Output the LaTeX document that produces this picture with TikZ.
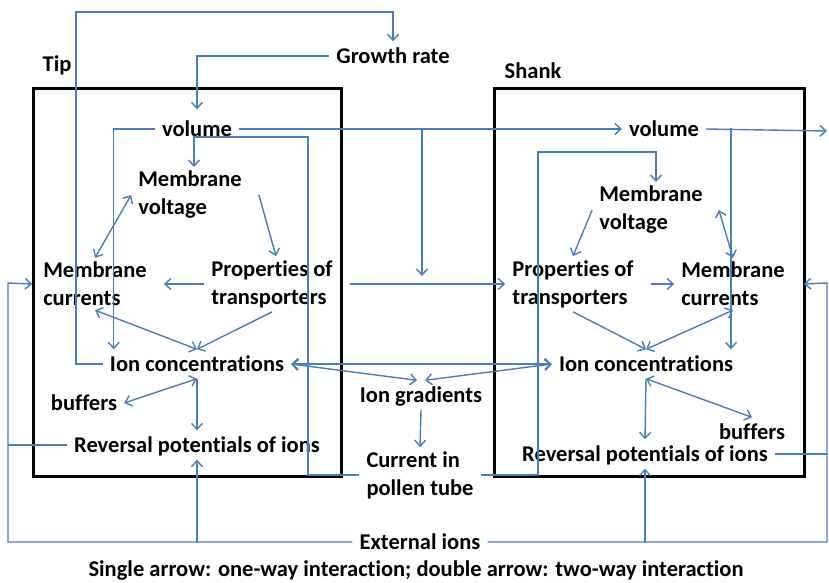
\documentclass[tikz,border=0pt]{standalone}
\usepackage{fontspec}
\setmainfont{Carlito}[Ligatures=CommonOff]
\usetikzlibrary{arrows.meta, positioning, calc}
\definecolor{linkblue}{HTML}{4A7EBB}
\tikzset{
    term/.style={font=\bfseries\fontsize{22.5}{28}\selectfont, inner xsep=7pt, inner ysep=4pt, text height=18pt, text depth=3pt},
    term2/.style={font=\bfseries\fontsize{22.5}{28}\selectfont, inner xsep=7pt, inner ysep=4pt, align=left},
    cell/.style={draw, line width=3pt},
    wire/.style={draw=linkblue, line width=1.4pt},
    conn/.style={wire, -{Straight Barb[length=6pt,width=11pt]}},
    biconn/.style={wire, {Straight Barb[length=6pt,width=11pt]}-{Straight Barb[length=6pt,width=11pt]}}
}
\begin{document}
\begin{tikzpicture}[x=1pt, y=-1pt]
    \useasboundingbox (0,0) rectangle (829,582);

    % the two cell regions
    \draw [cell] (33,88) rectangle (341,476);
    \draw [cell] (494,88) rectangle (804,476);
    \node (tiplbl) [term] at (57,64) {Tip};
    \node (shanklbl) [term] at (533,71) {Shank};

    \node (growth) [term] at (393,56) {Growth rate};

    % tip
    \node (tipvol) [term] at (197,129) {volume};
    \node (tipmv) [term2] at (190,195) {Membrane\\voltage};
    \node (tipmc) [term2] at (95,284) {Membrane\\currents};
    \node (tipprop) [term2] at (272,284) {Properties of\\transporters};
    \node (tipion) [term] at (197,364) {Ion concentrations};
    \node (tipbuf) [term] at (84,403) {buffers};
    \node (tiprev) [term] at (197,445) {Reversal potentials of ions};

    % shank
    \node (shankvol) [term] at (664,129) {volume};
    \node (shankmv) [term2] at (651,210) {Membrane\\voltage};
    \node (shankprop) [term2] at (573,284) {Properties of\\transporters};
    \node (shankmc) [term2] at (733,284) {Membrane\\currents};
    \node (shankion) [term] at (646,364) {Ion concentrations};
    \node (shankbuf) [term] at (752,432) {buffers};
    \node (shankrev) [term] at (645,454) {Reversal potentials of ions};

    % between and below
    \node (iongrad) [term] at (421,395) {Ion gradients};
    \node (curr) [term2] at (420,475) {Current in\\pollen tube};
    \node (extion) [term] at (420,542) {External ions};
    \node (legend) [term] at (416,569) {Single arrow: one-way interaction; double arrow: two-way interaction};

    \coordinate (tiploop) at (76,12);
    \coordinate (tipring) at (308,137);
    \coordinate (shankring) at (538,152);
    \coordinate (volsplit) at (422,128);
    \coordinate (propjoin) at (422,276);
    \coordinate (shanktap) at (731,128);
    \coordinate (voleast) at (827,131);
    \coordinate (railL) at (8,283);
    \coordinate (railR) at (827,283);

    % growth and volume
    \draw [conn] (tipion.west) -| (tiploop) -| (growth.north);
    \draw [conn] (growth.west) -| ([yshift=5pt]tipvol.north);
    \draw [conn] (tipvol.west) -| ([xshift=11pt]tipion.north west);
    \draw [conn] (tipvol.east) -- (shankvol.west);
    \draw [conn] (volsplit) -- (propjoin);
    \draw [conn] ([xshift=10pt]tipprop.east) -- (shankprop.west);
    \draw [conn] (shankvol.east) -- (voleast);
    \draw [conn] (shanktap) -- (shanktap |- shankion.north);

    % current in pollen tube
    \draw [conn] (curr.west) -| (tipring) -| ([xshift=4pt]tipmv.north);
    \draw [conn] (curr.east) -| (shankring) -| ([xshift=5pt]shankmv.north);

    % inside the tip
    \draw [biconn] (tipmv.west) -- (tipmc.north);
    \draw [conn] ([xshift=10pt]tipmv.east) -- ([xshift=4pt]tipprop.north);
    \draw [conn, shorten >=10pt] (tipprop.west) -- (tipmc.east);
    \draw [biconn] (tipmc.south) -- (tipion.north);
    \draw [conn] (tipprop.south) -- (tipion.north);
    \draw [biconn] (tipion.south) -- (tipbuf.east);
    \draw [conn] (tipion.south) -- (tiprev.north);

    % inside the shank
    \draw [conn] (shankmv.west) -- (shankprop.north);
    \draw [biconn] ([xshift=9pt]shankmv.east) -- (shankmc.north);
    \draw [conn, shorten <=10pt] (shankprop.east) -- (shankmc.west);
    \draw [conn] (shankprop.south) -- (shankion.north);
    \draw [biconn] (shankmc.south) -- (shankion.north);
    \draw [biconn] (shankion.south) -- (shankbuf.north);
    \draw [conn] (shankion.south) -- (shankrev.north);

    % ion gradients
    \draw [biconn] (tipion.east) -- (shankion.west);
    \draw [biconn] (tipion.east) -- ([xshift=-4pt]iongrad.north);
    \draw [biconn] (shankion.west) -- ([xshift=4pt]iongrad.north);
    \draw [conn] (iongrad.south) -- (curr.north);

    % external ions
    \draw [conn] (extion.west) -| (railL) -- ([xshift=-4pt]tipmc.west);
    \draw [wire] (tiprev.west) -- (tiprev.west -| railL);
    \draw [conn] (tiprev.south |- extion.west) -- (tiprev.south);
    \draw [conn] (extion.east) -| (railR) -- ([xshift=12pt]shankmc.east);
    \draw [wire] (shankrev.east) -- (shankrev.east -| railR);
    \draw [conn] (shankrev.south |- extion.east) -- (shankrev.south);
\end{tikzpicture}
\end{document}
